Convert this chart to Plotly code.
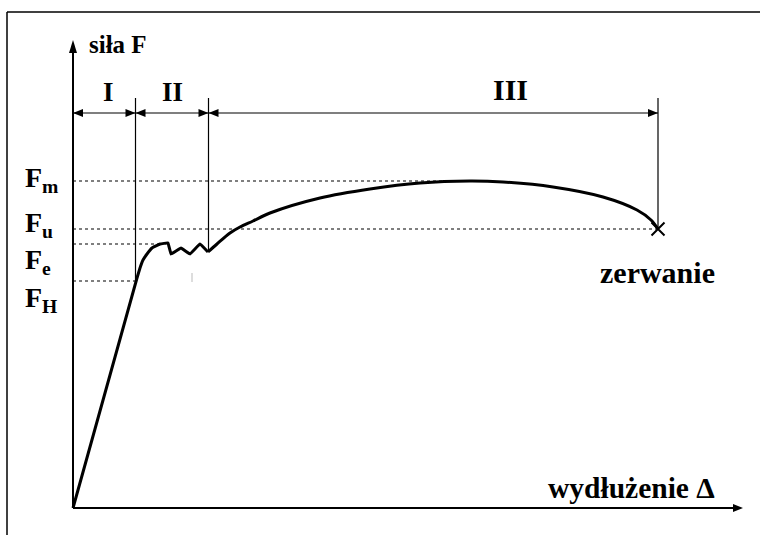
import plotly.graph_objects as go

# --- data (schematic tensile test curve) ---
elong = [0, 64, 67, 70, 74, 79, 87, 95, 98, 108, 117, 127, 135, 144, 157, 167, 180,
         197, 247, 297, 347, 397, 430, 480, 530, 564, 578, 585]
force = [0, 230, 240, 248, 254, 260, 264, 265, 254, 260, 254, 264, 256, 264, 275, 281, 287,
         295, 310, 319, 325, 327, 326, 321, 311, 298, 288, 279]

F_m, F_u, F_e, F_H = 327, 279, 264, 227
x_Fm, x_Fu, x_Fe, x_FH = 412, 585, 88, 64
x_I, x_II, x_III = 62.5, 135.5, 585
zone_labels = ["I", "II", "III"]
level_labels = ["F<sub>m</sub>", "F<sub>u</sub>", "F<sub>e</sub>", "F<sub>H</sub>"]

FONT = "Liberation Serif"
SPLIT = 12  # end of the yield (saw-tooth) part
fig = go.Figure()

# elastic + yield part
fig.add_trace(go.Scatter(x=elong[:SPLIT + 1], y=force[:SPLIT + 1], mode="lines",
                         line=dict(color="black", width=3, shape="spline", smoothing=0.15),
                         hoverinfo="skip"))
# hardening part (smooth)
fig.add_trace(go.Scatter(x=elong[SPLIT:], y=force[SPLIT:], mode="lines",
                         line=dict(color="black", width=3, shape="spline", smoothing=0.9),
                         hoverinfo="skip"))
# break marker
fig.add_trace(go.Scatter(x=[elong[-1]], y=[force[-1]], mode="markers",
                         marker=dict(symbol="x-thin", size=13, line=dict(color="black", width=2)),
                         hoverinfo="skip"))

shapes = []
# frame (top and left)
shapes.append(dict(type="line", xref="paper", yref="paper", x0=7/760, x1=1, y0=1-12/535, y1=1-12/535,
                   line=dict(color="black", width=1.5)))
shapes.append(dict(type="line", xref="paper", yref="paper", x0=7/760, x1=7/760, y0=0, y1=1-12/535,
                   line=dict(color="black", width=1.5)))
# axes
shapes.append(dict(type="line", x0=0, x1=0, y0=0, y1=458, line=dict(color="black", width=2)))
shapes.append(dict(type="line", x0=0, x1=662, y0=0, y1=0, line=dict(color="black", width=2)))
shapes.append(dict(type="path", path="M -4,455 L 0,468 L 4,455 Z", fillcolor="black", line=dict(width=0)))
shapes.append(dict(type="path", path="M 660,-4 L 670,0 L 660,4 Z", fillcolor="black", line=dict(width=0)))

# dotted level lines
for lvl, xe in [(F_m, x_Fm), (F_u, x_Fu), (F_e, x_Fe), (F_H, x_FH)]:
    shapes.append(dict(type="line", x0=0, x1=xe, y0=lvl, y1=lvl,
                       line=dict(color="black", width=1.2, dash="dot")))

# zone boundaries
ARROW_Y = 395
shapes.append(dict(type="line", x0=x_I, x1=x_I, y0=228, y1=410, line=dict(color="black", width=1.2)))
shapes.append(dict(type="line", x0=x_II, x1=x_II, y0=256, y1=410, line=dict(color="black", width=1.2)))
shapes.append(dict(type="line", x0=x_III, x1=x_III, y0=279, y1=410, line=dict(color="black", width=1.2)))
# faint tick artefact
shapes.append(dict(type="line", x0=119, x1=119, y0=226, y1=235, line=dict(color="#bbbbbb", width=1)))

bounds = [0, x_I, x_II, x_III]
for a, b in zip(bounds[:-1], bounds[1:]):
    shapes.append(dict(type="line", x0=a, x1=b, y0=ARROW_Y, y1=ARROW_Y, line=dict(color="black", width=1.2)))
    shapes.append(dict(type="path", path=f"M {a},{ARROW_Y} L {a+10},{ARROW_Y+4} L {a+10},{ARROW_Y-4} Z",
                       fillcolor="black", line=dict(width=0)))
    shapes.append(dict(type="path", path=f"M {b},{ARROW_Y} L {b-10},{ARROW_Y+4} L {b-10},{ARROW_Y-4} Z",
                       fillcolor="black", line=dict(width=0)))

ann = []
def txt(x, y, t, size, xa="center", ya="middle"):
    ann.append(dict(x=x, y=y, text="<b>" + t + "</b>", showarrow=False, xanchor=xa, yanchor=ya,
                    font=dict(family=FONT, size=size, color="black")))

txt(14, 464, "siła F", 25, xa="left")
label_x = [(bounds[i] + bounds[i+1]) / 2 for i in range(3)]
txt(label_x[0] + 4, 416, zone_labels[0], 27)
txt(label_x[1], 416, zone_labels[1], 27)
txt(label_x[2] + 77, 419, zone_labels[2], 30)
for lab, yy in zip(level_labels, [329, 284, 247, 209]):
    txt(-50, yy, lab, 28, xa="left")
txt(584, 236, "zerwanie", 30)
txt(558, 20, "wydłużenie Δ", 29.5)

fig.update_layout(
    width=760, height=535, margin=dict(l=0, r=0, t=0, b=0),
    paper_bgcolor="white", plot_bgcolor="white", showlegend=False,
    xaxis=dict(range=[-73, 687], visible=False, fixedrange=True),
    yaxis=dict(range=[-27, 508], visible=False, fixedrange=True),
    shapes=shapes, annotations=ann,
)
fig.write_html("out.html", config={"displayModeBar": False},
               post_script="document.body.style.margin='0';")
